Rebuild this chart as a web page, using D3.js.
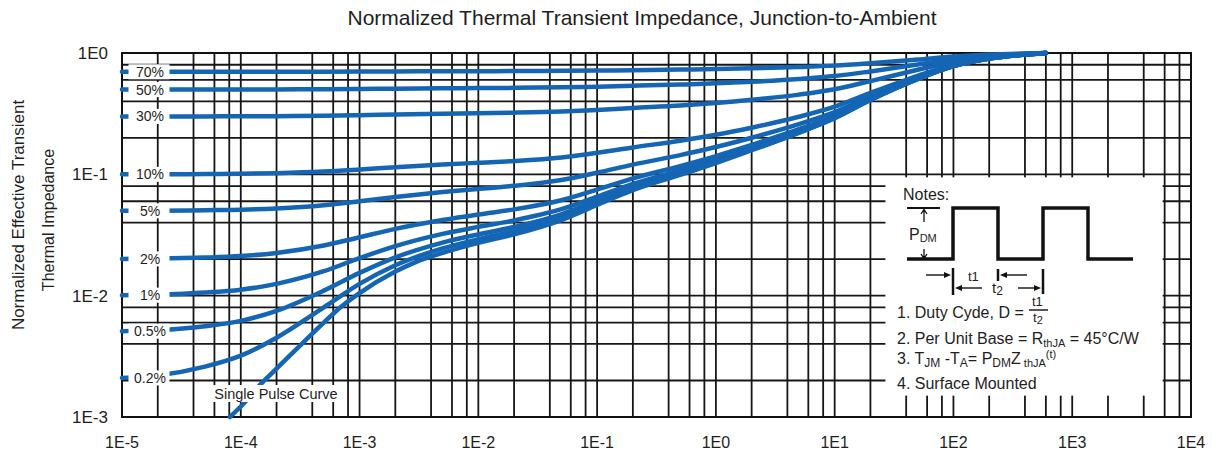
<!DOCTYPE html>
<html><head><meta charset="utf-8">
<script src="https://cdn.jsdelivr.net/npm/d3@7"></script>
<style>
html,body{margin:0;padding:0;background:#fff;}
svg{display:block;font-family:"Liberation Sans",Arial,sans-serif;}
</style></head>
<body>
<svg id="chart" width="1217" height="455"></svg>
<script>
// ---------- data ----------
const xTickValues = [1e-5,1e-4,1e-3,1e-2,1e-1,1,10,100,1000,10000];
const xTickLabels = ["1E-5","1E-4","1E-3","1E-2","1E-1","1E0","1E1","1E2","1E3","1E4"];
const yTickValues = [1,0.1,0.01,0.001];
const yTickLabels = ["1E0","1E-1","1E-2","1E-3"];

const times = [1e-5,2e-5,5e-5,1e-4,2e-4,5e-4,1e-3,2e-3,5e-3,1e-2,2e-2,5e-2,0.1,0.2,0.5,1,2,5,10,20,50,100,200,400,600];
const d70 = [0.7,0.7,0.7,0.7,0.7007,0.7018,0.7032,0.7047,0.7068,0.7082,0.7096,0.7126,0.7168,0.7222,0.7297,0.7372,0.7474,0.766,0.787,0.823,0.883,0.934,0.97,0.991,1.0];
const d50 = [0.5,0.5,0.5,0.5006,0.5012,0.503,0.5053,0.5079,0.5113,0.5136,0.516,0.521,0.528,0.537,0.5495,0.562,0.579,0.61,0.645,0.705,0.805,0.89,0.95,0.985,1.0];
const d30 = [0.3,0.3,0.3002,0.3008,0.3018,0.3042,0.3074,0.311,0.3158,0.319,0.3224,0.3294,0.339,0.352,0.369,0.387,0.411,0.454,0.503,0.587,0.727,0.846,0.93,0.979,1.0];
const d10 = [0.1,0.1,0.1005,0.1011,0.1023,0.1054,0.1095,0.1142,0.1203,0.1245,0.1288,0.1378,0.1504,0.1666,0.1891,0.2116,0.2422,0.298,0.361,0.469,0.649,0.802,0.91,0.973,1.0];
const d5  = [0.05,0.0501,0.0506,0.0511,0.0524,0.0557,0.06,0.065,0.0714,0.0758,0.0804,0.0899,0.1032,0.1203,0.144,0.1678,0.2001,0.259,0.3255,0.4395,0.6295,0.791,0.905,0.9715,1.0];
const d2  = [0.0201,0.0202,0.0206,0.0212,0.0225,0.0259,0.0303,0.0355,0.042,0.0467,0.0514,0.0612,0.0749,0.0925,0.117,0.1415,0.1748,0.2356,0.3042,0.4218,0.6178,0.7844,0.902,0.9706,1.0];
const d1  = [0.0101,0.0102,0.0106,0.0112,0.0125,0.0159,0.0204,0.0256,0.0323,0.0369,0.0417,0.0516,0.0654,0.0833,0.108,0.1328,0.1664,0.2278,0.2971,0.4159,0.6139,0.7822,0.901,0.9703,1.0];
const d05 = [0.0051,0.0052,0.0056,0.0062,0.0075,0.011,0.0154,0.0207,0.0274,0.032,0.0368,0.0468,0.0607,0.0786,0.1035,0.1284,0.1622,0.2239,0.2936,0.4129,0.612,0.7811,0.9005,0.9702,1.0];
const d02 = [0.0021,0.0022,0.0026,0.0032,0.0045,0.008,0.0125,0.0178,0.0245,0.0292,0.034,0.044,0.0579,0.0759,0.1008,0.1258,0.1597,0.2216,0.2914,0.4112,0.6108,0.7804,0.9002,0.9701,1.0];
const spTimes = [8.1e-5,1e-4,1.5e-4,2e-4,3e-4,5e-4,7e-4,1e-3,2e-3,3e-3,5e-3,1e-2,2e-2,5e-2,0.1,0.2,0.5,1,2,5,10,20,50,100,200,400,600];
const single = [0.001,0.00122,0.0019,0.0025,0.0037,0.006,0.0081,0.0105,0.0158,0.019,0.0225,0.0272,0.032,0.042,0.056,0.074,0.099,0.124,0.158,0.22,0.29,0.41,0.61,0.78,0.9,0.97,1.0];

const dutyLabels = ["70%","50%","30%","10%","5%","2%","1%","0.5%","0.2%"];
const dutySeries = [d70,d50,d30,d10,d5,d2,d1,d05,d02];
const gridMultipliers = [1,2,4,6,8];

// ---------- drawing ----------
const svg = d3.select("#chart");
const W = 1217, H = 455;
const L = 122, R = 1191, T = 53, B = 417;
const x = d3.scaleLog().domain([1e-5,1e4]).range([L,R]);
const y = d3.scaleLog().domain([1e-3,1]).range([B,T]);
const blue = "#1466b4";
const ink = "#1e1e1e";

svg.append("rect").attr("width",W).attr("height",H).attr("fill","#fff");

// grid values
const xGrid = [], yGrid = [];
for (let e=-5;e<4;e++) gridMultipliers.forEach(m=>xGrid.push(m*Math.pow(10,e)));
for (let e=-3;e<0;e++) gridMultipliers.forEach(m=>yGrid.push(m*Math.pow(10,e)));

const g = svg.append("g");
g.selectAll("line.vx").data(xGrid).join("line")
  .attr("x1",d=>x(d)).attr("x2",d=>x(d)).attr("y1",T).attr("y2",B)
  .attr("stroke","#161616").attr("stroke-width",1.8);
g.selectAll("line.hy").data(yGrid).join("line")
  .attr("y1",d=>y(d)).attr("y2",d=>y(d)).attr("x1",L).attr("x2",R)
  .attr("stroke","#161616").attr("stroke-width",1.8);

// notes box background (covers grid)
const nb = {x0:x(20)+15, x1:x(6000)-2, y0:y(0.1)+3, y1:y(0.0015)};
svg.append("rect").attr("x",nb.x0).attr("y",nb.y0)
  .attr("width",nb.x1-nb.x0).attr("height",nb.y1-nb.y0).attr("fill","#fff");

// border
svg.append("rect").attr("x",L).attr("y",T).attr("width",R-L).attr("height",B-T)
  .attr("fill","none").attr("stroke","#111").attr("stroke-width",2);

// curves
const line = d3.line().x(d=>x(d[0])).y(d=>y(d[1])).curve(d3.curveMonotoneX);
const curvesG = svg.append("g").attr("fill","none").attr("stroke",blue)
  .attr("stroke-width",4.5).attr("stroke-linecap","round");
dutySeries.forEach(s=>{
  curvesG.append("path").attr("d",line(times.map((t,i)=>[t,s[i]])));
});
curvesG.append("path").attr("d",line(spTimes.map((t,i)=>[t,single[i]])));

// duty labels with white boxes
const labG = svg.append("g");
dutySeries.forEach((s,i)=>{
  const yy = y(s[0]);
  labG.append("rect").attr("x",128.5).attr("y",yy-7.5).attr("width",41).attr("height",15).attr("fill","#fff");
  labG.append("text").attr("x",150).attr("y",yy+5).attr("text-anchor","middle")
    .attr("font-size",14).attr("fill",ink).text(dutyLabels[i]);
});
// single pulse label
labG.append("rect").attr("x",208).attr("y",385).attr("width",135).attr("height",17).attr("fill","#fff");
labG.append("text").attr("x",276).attr("y",399).attr("text-anchor","middle")
  .attr("font-size",14.5).attr("fill",ink).text("Single Pulse Curve");

// axis labels
svg.selectAll("text.xt").data(xTickValues).join("text")
  .attr("x",d=>x(d)).attr("y",448).attr("text-anchor","middle")
  .attr("font-size",16).attr("fill",ink).text((d,i)=>xTickLabels[i]);
svg.selectAll("text.yt").data(yTickValues).join("text")
  .attr("x",108).attr("y",d=>y(d)+6).attr("text-anchor","end")
  .attr("font-size",17).attr("fill",ink).text((d,i)=>yTickLabels[i]);

// title
svg.append("text").attr("x",642).attr("y",25).attr("text-anchor","middle")
  .attr("font-size",21).attr("fill",ink)
  .text("Normalized Thermal Transient Impedance, Junction-to-Ambient");

// y axis title
svg.append("text").attr("transform","translate(24,215) rotate(-90)")
  .attr("text-anchor","middle").attr("font-size",17).attr("fill",ink)
  .text("Normalized Effective Transient");
svg.append("text").attr("transform","translate(54,220) rotate(-90)")
  .attr("text-anchor","middle").attr("font-size",16).attr("fill",ink)
  .text("Thermal Impedance");

// ---------- notes ----------
const n = svg.append("g").attr("fill",ink).attr("font-size",16);
n.append("text").attr("x",903).attr("y",200).attr("font-size",16).text("Notes:");
// waveform
const wave = [[907,259],[953,259],[953,208],[998,208],[998,259],[1043,259],[1043,208],[1088,208],[1088,259],[1133,259]];
n.append("path").attr("d",d3.line()(wave)).attr("fill","none").attr("stroke","#111").attr("stroke-width",3.5);
n.append("line").attr("x1",907).attr("x2",940).attr("y1",208).attr("y2",208).attr("stroke","#111").attr("stroke-width",2);
// PDM arrows
const arr = n.append("g").attr("stroke","#111").attr("stroke-width",1.3).attr("fill","none");
arr.append("path").attr("d","M924,222 L924,210 M921,214 L924,209.5 L927,214");
arr.append("path").attr("d","M924,249 L924,258 M921,254 L924,258.5 L927,254");
const pdm = n.append("text").attr("x",909).attr("y",240).attr("font-size",16);
pdm.append("tspan").text("P");
pdm.append("tspan").attr("font-size",11).attr("dy",2).text("DM");
// timing marks
const tm = n.append("g").attr("stroke","#111").attr("fill","#111");
tm.append("line").attr("x1",953).attr("x2",953).attr("y1",268).attr("y2",295).attr("stroke-width",2.5);
tm.append("line").attr("x1",998).attr("x2",998).attr("y1",269).attr("y2",281).attr("stroke-width",2.5);
tm.append("line").attr("x1",1043).attr("x2",1043).attr("y1",269).attr("y2",294).attr("stroke-width",2.5);
function arrow(x1,y1,x2){
  const dir = Math.sign(x2-x1);
  tm.append("line").attr("x1",x1).attr("x2",x2-dir*4).attr("y1",y1).attr("y2",y1).attr("stroke-width",1.4);
  tm.append("path").attr("stroke","none").attr("d",`M${x2},${y1} L${x2-dir*7},${y1-3} L${x2-dir*7},${y1+3} Z`);
}
arrow(926,275,951);
arrow(1027,275,1000);
arrow(982,288,955);
arrow(1018,288,1041);
n.append("text").attr("x",968).attr("y",281).attr("font-size",13).text("t1");
const t2 = n.append("text").attr("x",992).attr("y",293).attr("font-size",15);
t2.append("tspan").text("t");
t2.append("tspan").attr("font-size",12).attr("dy",2).text("2");
// note lines
n.append("text").attr("x",897).attr("y",318).text("1. Duty Cyde, D =");
n.append("text").attr("x",1032).attr("y",306).attr("font-size",13).text("t1");
n.append("line").attr("x1",1029).attr("x2",1048).attr("y1",310).attr("y2",310).attr("stroke","#111").attr("stroke-width",1.4);
const ft2 = n.append("text").attr("x",1033).attr("y",322).attr("font-size",13);
ft2.append("tspan").text("t");
ft2.append("tspan").attr("font-size",11).attr("dy",2).text("2");

const l2 = n.append("text").attr("x",897).attr("y",344);
l2.append("tspan").text("2. Per Unit Base = R");
l2.append("tspan").attr("font-size",11).attr("dy",3).text("thJA");
l2.append("tspan").attr("dy",-3).text(" = 45°C/W");

const l3 = n.append("text").attr("x",897).attr("y",364);
l3.append("tspan").text("3. T");
l3.append("tspan").attr("font-size",12).attr("dy",3).text("JM");
l3.append("tspan").attr("dy",-3).text(" -T");
l3.append("tspan").attr("font-size",12).attr("dy",3).text("A");
l3.append("tspan").attr("dy",-3).text("= P");
l3.append("tspan").attr("font-size",12).attr("dy",3).text("DM");
l3.append("tspan").attr("dy",-3).text("Z");
l3.append("tspan").attr("font-size",11).attr("dy",3).text(" thJA");
l3.append("tspan").attr("font-size",11).attr("dy",-9).text("(t)");

n.append("text").attr("x",897).attr("y",389).text("4. Surface Mounted");
</script>
</body></html>
